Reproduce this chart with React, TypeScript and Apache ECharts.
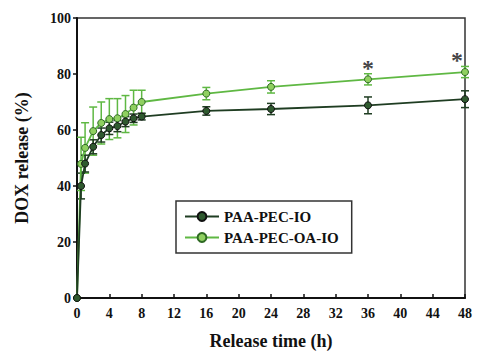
import React, { useEffect, useRef } from "react";
import * as echarts from "echarts";

const times = [0, 0.5, 1, 2, 3, 4, 5, 6, 7, 8, 16, 24, 36, 48];
const ioValues = [0, 40, 48, 54, 58.2, 60.6, 61.4, 63, 64.2, 64.8, 66.8, 67.5, 68.8, 71];
const ioErrors = [0, 4.6, 3, 2.5, 2.5, 2.2, 2, 1.8, 1.5, 1.2, 1.5, 2, 3, 3];
const oaValues = [0, 47.9, 53.6, 59.6, 62.5, 63.9, 64.2, 65.7, 68, 70, 73, 75.4, 78.1, 80.7];
const oaErrors = [0, 9.5, 9, 8.6, 7.5, 7.3, 7, 6.6, 6.2, 4.2, 2.2, 2.2, 2, 2];
const starPoints = [[36, 82], [47, 85]];

const FONT = "Liberation Serif, Times New Roman, serif";
const DARK = "#1f3d22";
const DARK_FILL = "#2f5a2f";
const LIGHT = "#5fb843";
const LIGHT_FILL = "#8fd060";

function errorSeries(values: number[], errors: number[], color: string, z: number) {
  const data = times.map((t, i) => [t, values[i] - errors[i], values[i] + errors[i]]);
  return {
    type: "custom",
    silent: true,
    z,
    data,
    renderItem: (_params: any, api: any) => {
      const x = api.value(0);
      const lo = api.value(1);
      const hi = api.value(2);
      if (hi - lo <= 0) return null;
      const pLo = api.coord([x, lo]);
      const pHi = api.coord([x, hi]);
      const w = 4;
      const style = { stroke: color, lineWidth: 1.5 };
      return {
        type: "group",
        children: [
          { type: "line", shape: { x1: pLo[0], y1: pLo[1], x2: pHi[0], y2: pHi[1] }, style },
          { type: "line", shape: { x1: pLo[0] - w, y1: pLo[1], x2: pLo[0] + w, y2: pLo[1] }, style },
          { type: "line", shape: { x1: pHi[0] - w, y1: pHi[1], x2: pHi[0] + w, y2: pHi[1] }, style },
        ],
      };
    },
  };
}

export default function App() {
  const ref = useRef<HTMLDivElement>(null);
  useEffect(() => {
    if (!ref.current) return;
    const chart = echarts.init(ref.current, null, { renderer: "svg" });
    chart.setOption({
      animation: false,
      backgroundColor: "#fff",
      grid: {
        left: 77,
        right: 35,
        top: 18,
        bottom: 61,
        show: true,
        borderColor: "#333",
        borderWidth: 1.5,
        backgroundColor: "transparent",
      },
      xAxis: {
        type: "value",
        min: 0,
        max: 48,
        interval: 4,
        name: "Release time (h)",
        nameLocation: "middle",
        nameGap: 34,
        nameTextStyle: { fontFamily: FONT, fontWeight: "bold", fontSize: 18, color: "#111" },
        axisLine: { lineStyle: { color: "#111", width: 2 } },
        axisTick: { inside: true, length: 4, lineStyle: { color: "#111", width: 1.5 } },
        axisLabel: { fontFamily: FONT, fontWeight: "bold", fontSize: 14, color: "#111", margin: 8 },
        splitLine: { show: false },
      },
      yAxis: {
        type: "value",
        min: 0,
        max: 100,
        interval: 20,
        name: "DOX release (%)",
        nameLocation: "middle",
        nameGap: 46,
        nameTextStyle: { fontFamily: FONT, fontWeight: "bold", fontSize: 18, color: "#111" },
        axisLine: { show: true, lineStyle: { color: "#111", width: 2 } },
        axisTick: { show: true, inside: false, length: 4, lineStyle: { color: "#111", width: 1.5 } },
        axisLabel: { fontFamily: FONT, fontWeight: "bold", fontSize: 14, color: "#111", margin: 6 },
        splitLine: { show: false },
      },
      legend: {
        left: 176,
        top: 201,
        orient: "vertical",
        borderColor: "#333",
        borderWidth: 1.5,
        padding: [8, 13, 8, 8],
        itemGap: 6,
        itemWidth: 34,
        itemHeight: 11,
        textStyle: { fontFamily: FONT, fontWeight: "bold", fontSize: 15, color: "#111" },
        data: ["PAA-PEC-IO", "PAA-PEC-OA-IO"],
      },
      series: [
        errorSeries(ioValues, ioErrors, DARK, 3),
        errorSeries(oaValues, oaErrors, LIGHT, 2),
        {
          name: "PAA-PEC-OA-IO",
          type: "line",
          z: 4,
          data: times.map((t, i) => [t, oaValues[i]]),
          symbol: "circle",
          symbolSize: 7,
          lineStyle: { color: LIGHT, width: 1.8 },
          itemStyle: { color: LIGHT_FILL, borderColor: "#2f6a24", borderWidth: 1 },
        },
        {
          name: "PAA-PEC-IO",
          type: "line",
          z: 5,
          data: times.map((t, i) => [t, ioValues[i]]),
          symbol: "circle",
          symbolSize: 7,
          lineStyle: { color: DARK, width: 1.8 },
          itemStyle: { color: DARK_FILL, borderColor: "#111", borderWidth: 1 },
        },
        {
          type: "scatter",
          silent: true,
          z: 6,
          data: starPoints,
          symbolSize: 0,
          label: {
            show: true,
            position: "inside",
            formatter: "*",
            fontFamily: FONT,
            fontWeight: "bold",
            fontSize: 24,
            color: "#111",
          },
        },
      ],
    });
    return () => chart.dispose();
  }, []);
  return (
    <div
      ref={ref}
      style={{ position: "fixed", left: 0, top: 0, width: 500, height: 359 }}
    />
  );
}
